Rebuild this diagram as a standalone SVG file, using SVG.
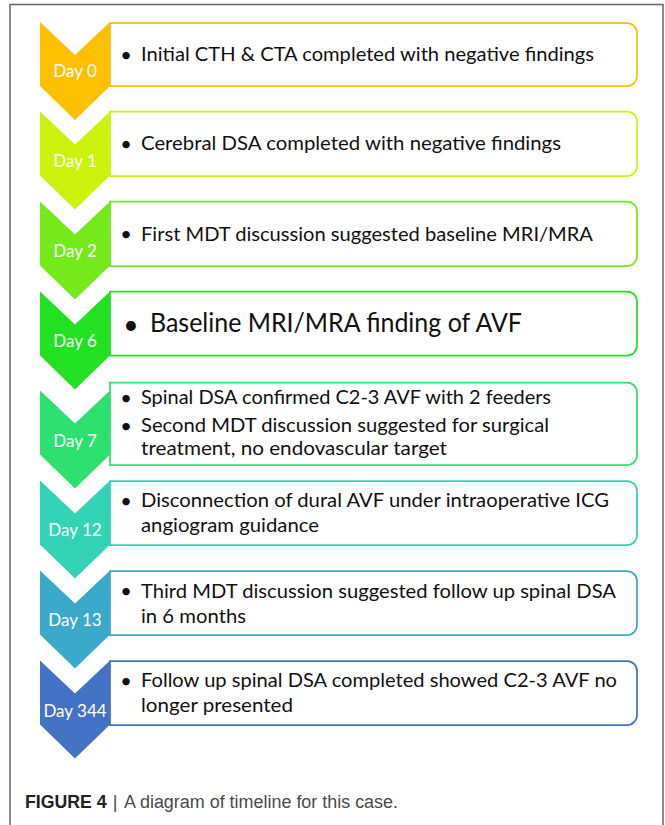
<svg xmlns="http://www.w3.org/2000/svg" width="665" height="825" viewBox="0 0 665 825">
<style>
.frame{fill:none;stroke:#666;stroke-width:1.5}
.box{fill:#fff;stroke-width:1.75}
.lbl{font-family:Lato,"Liberation Sans",sans-serif;font-size:17px;fill:#fff;text-anchor:middle}
.t{font-family:Lato,"Liberation Sans",sans-serif;font-size:20px;fill:#111}
.big{font-size:26.5px}
.bul{font-family:Lato,"Liberation Sans",sans-serif;font-size:20px;fill:#111;text-anchor:middle}
.cap{font-family:"Liberation Sans",Arial,sans-serif;font-size:18px;fill:#4a4a4a}
.capb{font-weight:bold;fill:#222}
</style>
<rect class="frame" x="10" y="4.5" width="653" height="840"/>
<g id="connectors"></g>
<g id="day0">
<path class="box" stroke="#FFC000" d="M110,23 H627 A10,10 0 0 1 637,33 V76 A10,10 0 0 1 627,86 H110 Z"/>
<path fill="#FFC000" d="M40,22 L75,55 L110,22 L110,86 L75,120 L40,86 Z"/>
<text class="lbl" x="75" y="77.3">Day 0</text>
<text class="bul" x="126" y="61.5">•</text>
<text class="t" x="141" y="60.7" textLength="453" lengthAdjust="spacingAndGlyphs">Initial CTH &amp; CTA completed with negative findings</text>
</g>
<g id="day1">
<path class="box" stroke="#CCF20E" d="M110,111.5 H627 A10,10 0 0 1 637,121.5 V166 A10,10 0 0 1 627,176 H110 Z"/>
<path fill="#CCF20E" d="M40,111.5 L75,144.5 L110,111.5 L110,175.5 L75,209.5 L40,175.5 Z"/>
<text class="lbl" x="75" y="166.7">Day 1</text>
<text class="bul" x="126" y="150.8">•</text>
<text class="t" x="141" y="150" textLength="420" lengthAdjust="spacingAndGlyphs">Cerebral DSA completed with negative findings</text>
</g>
<g id="day2">
<path class="box" stroke="#74EA1A" d="M110,201.5 H627 A10,10 0 0 1 637,211.5 V256 A10,10 0 0 1 627,266 H110 Z"/>
<path fill="#74EA1A" d="M40,201.5 L75,234.5 L110,201.5 L110,265.5 L75,299.5 L40,265.5 Z"/>
<text class="lbl" x="75" y="257.3">Day 2</text>
<text class="bul" x="126" y="241.3">•</text>
<text class="t" x="141" y="240.5" textLength="452" lengthAdjust="spacingAndGlyphs">First MDT discussion suggested baseline MRI/MRA</text>
</g>
<g id="day6">
<path class="box" stroke="#21E122" d="M110,291.5 H627 A10,10 0 0 1 637,301.5 V345.5 A10,10 0 0 1 627,355.5 H110 Z"/>
<path fill="#21E122" d="M40,291.5 L75,324.5 L110,291.5 L110,355.5 L75,389.5 L40,355.5 Z"/>
<text class="lbl" x="75" y="346.7">Day 6</text>
<text class="bul" x="131" y="333.5" style="font-size:26.5px">•</text>
<text class="t big" x="150" y="332.3" textLength="372" lengthAdjust="spacingAndGlyphs">Baseline MRI/MRA finding of AVF</text>
</g>
<g id="day7">
<path class="box" stroke="#2EE070" d="M110,382.5 H627 A10,10 0 0 1 637,392.5 V455 A10,10 0 0 1 627,465 H110 Z"/>
<path fill="#2EE070" d="M40,390.5 L75,423.5 L110,390.5 L110,454.5 L75,488.5 L40,454.5 Z"/>
<text class="lbl" x="75" y="446.7">Day 7</text>
<text class="bul" x="126" y="404.8">•</text>
<text class="t" x="141" y="404" textLength="410" lengthAdjust="spacingAndGlyphs">Spinal DSA confirmed C2-3 AVF with 2 feeders</text>
<text class="bul" x="126" y="432.5">•</text>
<text class="t" x="141" y="431.7" textLength="408" lengthAdjust="spacingAndGlyphs">Second MDT discussion suggested for surgical</text>
<text class="t" x="141" y="455" textLength="306" lengthAdjust="spacingAndGlyphs">treatment, no endovascular target</text>
</g>
<g id="day12">
<path class="box" stroke="#33D3B5" d="M110,481 H627 A10,10 0 0 1 637,491 V535 A10,10 0 0 1 627,545 H110 Z"/>
<path fill="#33D3B5" d="M40,480.5 L75,513.5 L110,480.5 L110,544.5 L75,578.5 L40,544.5 Z"/>
<text class="lbl" x="75" y="536">Day 12</text>
<text class="bul" x="126" y="507.8">•</text>
<text class="t" x="141" y="507" textLength="468" lengthAdjust="spacingAndGlyphs">Disconnection of dural AVF under intraoperative ICG</text>
<text class="t" x="141" y="532" textLength="178" lengthAdjust="spacingAndGlyphs">angiogram guidance</text>
</g>
<g id="day13">
<path class="box" stroke="#3AA9CA" d="M110,571 H627 A10,10 0 0 1 637,581 V625 A10,10 0 0 1 627,635 H110 Z"/>
<path fill="#3AA9CA" d="M40,570.5 L75,603.5 L110,570.5 L110,634.5 L75,668.5 L40,634.5 Z"/>
<text class="lbl" x="75" y="626">Day 13</text>
<text class="bul" x="126" y="598.3">•</text>
<text class="t" x="141" y="597.5" textLength="475" lengthAdjust="spacingAndGlyphs">Third MDT discussion suggested follow up spinal DSA</text>
<text class="t" x="141" y="622.5" textLength="105" lengthAdjust="spacingAndGlyphs">in 6 months</text>
</g>
<g id="day344">
<path class="box" stroke="#4472C4" d="M110,661 H627 A10,10 0 0 1 637,671 V715 A10,10 0 0 1 627,725 H110 Z"/>
<path fill="#4472C4" d="M40,660.5 L75,693.5 L110,660.5 L110,724.5 L75,758.5 L40,724.5 Z"/>
<text class="lbl" x="75" y="717.3">Day 344</text>
<text class="bul" x="126" y="687.8">•</text>
<text class="t" x="141" y="687" textLength="476" lengthAdjust="spacingAndGlyphs">Follow up spinal DSA completed showed C2-3 AVF no</text>
<text class="t" x="141" y="712" textLength="152" lengthAdjust="spacingAndGlyphs">longer presented</text>
</g>
<g id="caption">
<text class="cap capb" x="25" y="808.3" textLength="81.7" lengthAdjust="spacingAndGlyphs">FIGURE 4</text>
<text class="cap" x="115" y="808.3" text-anchor="middle" fill="#222">|</text>
<text class="cap" x="124" y="808.3" textLength="274" lengthAdjust="spacingAndGlyphs">A diagram of timeline for this case.</text>
</g>
</svg>
